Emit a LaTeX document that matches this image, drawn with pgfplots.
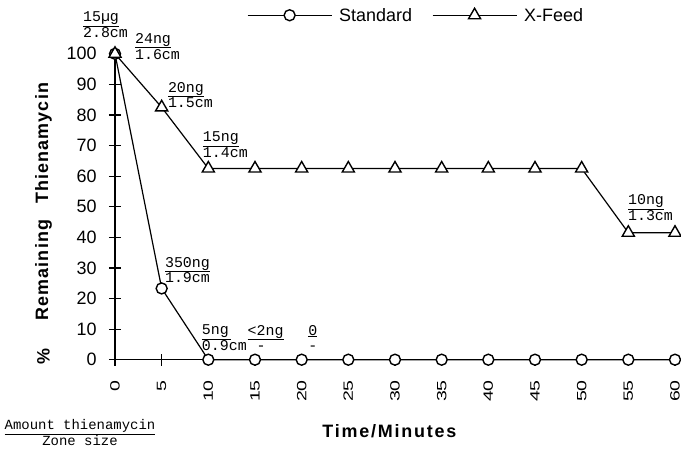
\documentclass[border=0pt]{standalone}
\usepackage{fontspec}
\setmainfont{Liberation Sans}
\setmonofont{Liberation Mono}
\usepackage{pgfplots}
\pgfplotsset{compat=1.18}
\begin{document}
\begin{tikzpicture}
\useasboundingbox (-115bp,-98.3bp) rectangle (566bp,359.7bp);
\begin{axis}[
  at={(0,0)}, anchor=south west,
  scale only axis, width=560bp, height=305.9bp,
  xmin=0, xmax=60, ymin=0, ymax=100,
  axis lines=left, axis line style={-, line width=1.2bp},
  clip=false,
  xtick={0,5,...,60}, ytick={0,10,...,100},
  tick align=center, major tick length=12bp,
  tick style={line width=1.2bp, black},
  /pgf/number format/assume math mode=true,
  yticklabel style={anchor=east, font=\fontsize{18}{20}\selectfont},
  xticklabel style={rotate=90, anchor=east, font=\fontsize{13.5}{14}\selectfont\addfontfeatures{FakeStretch=1.45}},
  xticklabel shift=11bp, yticklabel shift=9bp,
  legend style={draw=none, fill=none, at={(axis cs:32.25,112.6)}, anchor=center,
    legend columns=-1, font=\fontsize{18}{20}\selectfont,
    /tikz/every even column/.append style={column sep=18bp},
    /tikz/every odd column/.append style={column sep=5bp}},
  legend cell align=left,
  legend image code/.code={\draw[mark repeat=2,mark phase=2,#1] plot coordinates {(0bp,0bp) (42bp,0bp) (84bp,0bp)};},
]
\addplot[black, line width=1.2bp, mark=*, mark size=5.5bp, mark options={fill=white, draw=black, line width=1.4bp}]
  coordinates {(0,100) (5,23.3) (10,0) (15,0) (20,0) (25,0) (30,0) (35,0) (40,0) (45,0) (50,0) (55,0) (60,0)};
\addlegendentry{Standard}
\addplot[black, line width=1.2bp, mark=triangle*, mark size=7bp, mark options={fill=white, draw=black, line width=1.4bp}]
  coordinates {(0,100) (5,82.5) (10,62.5) (15,62.5) (20,62.5) (25,62.5) (30,62.5) (35,62.5) (40,62.5) (45,62.5) (50,62.5) (55,41.5) (60,41.5)};
\addlegendentry{X-Feed}
% annotations
\tikzset{ann/.style={anchor=west, align=left, inner sep=0pt, font=\ttfamily\fontsize{15}{16}\selectfont}}
\node[ann] at (axis cs:-3.44,109.4) {\underline{15µg}\\2.8cm};
\node[ann] at (axis cs:2.13,102.5) {\underline{24ng}\\1.6cm};
\node[ann] at (axis cs:5.66,86.5) {\underline{20ng}\\1.5cm};
\node[ann] at (axis cs:9.4,70.2) {\underline{15ng}\\1.4cm};
\node[ann] at (axis cs:54.95,49.6) {\underline{10ng}\\1.3cm};
\node[ann] at (axis cs:5.34,29.3) {\underline{350ng}\\1.9cm};
\node[ann] at (axis cs:9.3,7.1) {\underline{5ng\,}\\0.9cm};
\node[ann] at (axis cs:14.2,7.1) {\underline{<2ng}\\\ -};
\node[ann] at (axis cs:20.7,7.1) {\underline{0}\\-};
% axis labels
\node[anchor=base, font=\bfseries\fontsize{18}{20}\selectfont\addfontfeatures{LetterSpace=10}] at (axis cs:29.4,-25.3) {Time/Minutes};
\tikzset{ylab/.style={rotate=90, font=\bfseries\fontsize{18}{20}\selectfont\addfontfeatures{LetterSpace=6}}}
\node[ylab] at (axis cs:-7.66,70.8) {Thienamycin};
\node[ylab] at (axis cs:-7.66,29.3) {Remaining};
\node[ylab] at (axis cs:-7.66,0.9) {\%};
\node[align=center, inner sep=0pt, font=\ttfamily\fontsize{14}{16}\selectfont] at (axis cs:-3.75,-23.8) {\underline{Amount thienamycin}\\Zone size};
\end{axis}
\end{tikzpicture}
\end{document}
